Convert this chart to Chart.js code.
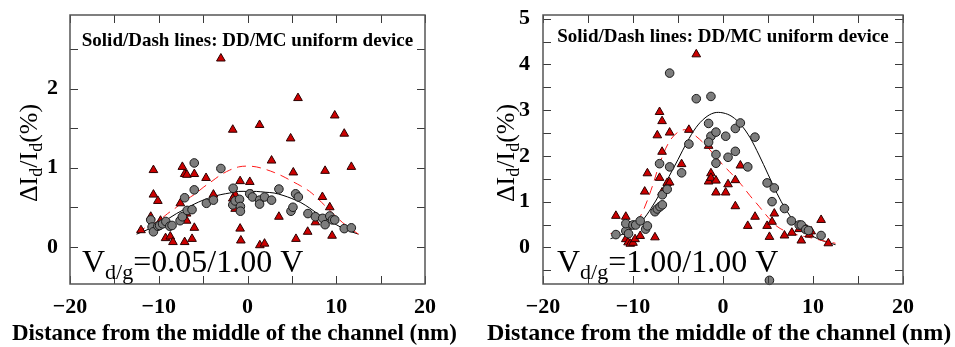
<!DOCTYPE html>
<html>
<head>
<meta charset="utf-8">
<script src="https://cdn.jsdelivr.net/npm/chart.js@4"></script>
<style>
  body { margin: 0; background: #fff; }
  #wrap { position: relative; width: 955px; height: 347px; }
  canvas { position: absolute; top: 0; }
  #left { left: 0; }
  #right { left: 477px; }
</style>
</head>
<body>
<div id="wrap">
  <canvas id="left" width="477" height="347"></canvas>
  <canvas id="right" width="478" height="347"></canvas>
</div>
<script>
const FONT = "'Liberation Serif', 'DejaVu Serif', serif";

// model curves, sampled along the channel (nm)
const curveX = [-12.5, -11, -10, -9, -8, -7, -6, -5, -4, -3, -2, -1, 0, 1, 2, 3, 4, 5, 6, 7, 8, 9, 10, 11, 12.5];
const lowDD = [0.16, 0.23, 0.29, 0.35, 0.42, 0.48, 0.54, 0.59, 0.63, 0.66, 0.68, 0.70, 0.70, 0.70, 0.69, 0.68, 0.65, 0.61, 0.56, 0.49, 0.41, 0.34, 0.28, 0.22, 0.16];
const lowMC = [0.19, 0.27, 0.33, 0.42, 0.50, 0.59, 0.66, 0.75, 0.83, 0.91, 0.97, 1.01, 1.02, 1.01, 0.98, 0.94, 0.89, 0.83, 0.77, 0.70, 0.60, 0.49, 0.38, 0.28, 0.16];
const highDD = [0.19, 0.30, 0.42, 0.58, 0.85, 1.18, 1.55, 1.92, 2.30, 2.62, 2.83, 2.94, 2.94, 2.86, 2.68, 2.40, 2.02, 1.60, 1.18, 0.82, 0.55, 0.36, 0.24, 0.15, 0.06];
const highMC = [0.30, 0.36, 0.45, 0.75, 1.25, 1.85, 2.30, 2.52, 2.57, 2.43, 2.25, 2.03, 1.80, 1.60, 1.38, 1.13, 0.90, 0.66, 0.46, 0.35, 0.29, 0.24, 0.20, 0.15, 0.09];

// Vd = 0.05 V, DD devices (circles)
const lowCircX = [-10.9, -10.75, -10.6, -10.1, -9.9, -9.57, -9.2, -8.76, -8.5, -7.6, -7.34, -7.08, -6.8, -6.25, -6.0, -6.0, -4.63, -3.84, -3.0, -1.62, -1.66, -1.39, -0.9, -0.8, -0.8, 0.25, 0.56, 1.36, 1.36, 1.92, 2.71, 3.54, 4.9, 5.12, 5.42, 5.73, 6.81, 7.65, 8.47, 8.74, 9.27, 9.57, 9.83, 10.9, 11.7];
const lowCircY = [0.34, 0.25, 0.19, 0.26, 0.27, 0.29, 0.32, 0.26, 0.27, 0.33, 0.38, 0.62, 0.46, 0.47, 0.72, 1.06, 0.55, 0.59, 0.99, 0.74, 0.53, 0.58, 0.60, 0.51, 0.45, 0.67, 0.63, 0.59, 0.54, 0.63, 0.59, 0.73, 0.45, 0.50, 0.67, 0.63, 0.42, 0.38, 0.36, 0.28, 0.39, 0.34, 0.34, 0.23, 0.24];
// Vd = 0.05 V, MC devices (triangles)
const lowTriX = [-3.0, 5.69, 9.83, 10.9, -1.66, 1.36, 4.86, 2.71, 11.7, -10.6, -7.34, -7.08, -6.83, -5.99, -4.67, 5.16, 8.74, -0.83, 0.26, -10.6, -10.1, -3.84, -1.39, -1.66, 0.49, 8.44, -7.57, 9.27, -1.39, -6.86, -10.9, -6.86, 3.54, -9.8, 7.65, -12.0, -5.99, -0.83, 6.78, -9.23, -8.7, -8.4, -7.08, -6.25, -0.75, 1.39, 1.92, 5.46, 9.53];
const lowTriY = [2.38, 1.88, 1.66, 1.43, 1.48, 1.54, 1.37, 1.09, 1.01, 0.97, 1.01, 0.92, 0.91, 0.92, 0.87, 0.94, 0.96, 0.83, 0.82, 0.66, 0.58, 0.66, 0.66, 0.61, 0.66, 0.63, 0.55, 0.50, 0.48, 0.42, 0.38, 0.33, 0.38, 0.33, 0.31, 0.21, 0.24, 0.23, 0.19, 0.11, 0.13, 0.06, 0.06, 0.10, 0.08, 0.02, 0.04, 0.10, 0.14];

// Vd = 1.00 V, DD devices (circles)
const highCircX = [-11.9, -10.8, -10.8, -10.5, -10.0, -9.7, -9.2, -8.6, -8.4, -7.56, -7.3, -7.0, -6.74, -6.74, -6.2, -5.93, -7.05, -4.6, -3.79, -5.93, -2.97, -1.34, -1.6, -1.34, -1.6, -0.78, -0.78, -0.78, 0.3, 0.56, 1.37, 1.37, 1.93, 2.75, 3.55, 4.9, 5.45, 5.7, 5.16, 6.83, 7.6, 8.46, 8.7, 9.2, 9.5, 10.9];
const highCircY = [0.28, 0.36, 0.52, 0.30, 0.49, 0.49, 0.58, 0.40, 0.47, 0.78, 0.84, 0.89, 0.93, 1.15, 1.27, 1.76, 1.83, 1.63, 2.26, 3.81, 3.25, 3.30, 2.71, 2.43, 2.30, 2.52, 2.03, 1.84, 2.43, 1.97, 2.60, 2.10, 2.72, 1.76, 2.41, 1.41, 1.00, 1.30, -0.72, 0.85, 0.58, 0.49, 0.49, 0.39, 0.37, 0.26];
// Vd = 1.00 V, MC devices (triangles)
const highTriX = [-11.9, -10.8, -10.8, -10.55, -10.3, -10.0, -9.77, -9.2, -8.7, -8.4, -7.56, -7.3, -7.05, -7.05, -6.77, -6.77, -6.77, -6.2, -5.93, -5.93, -4.6, -3.79, -2.97, -1.6, -1.6, -1.34, -1.34, -0.78, -0.78, 0.3, 0.56, 1.37, 1.37, 1.93, 2.75, 3.56, 4.9, 5.16, 5.45, 5.7, 6.83, 7.65, 8.46, 8.7, 9.3, 9.6, 9.8, 10.9, 11.7];
const highTriY = [0.69, 0.67, 0.18, 0.11, 0.08, 0.10, 0.18, 0.25, 1.22, 1.62, 0.22, 2.45, 2.96, 1.52, 2.76, 2.09, 1.20, 1.41, 2.51, 1.42, 1.82, 2.57, 4.22, 2.22, 1.44, 1.62, 1.52, 1.46, 1.20, 1.20, 1.38, 1.47, 0.90, 1.79, 0.47, 0.67, 0.47, 0.23, 0.56, 0.74, 0.26, 0.32, 0.40, 0.15, 0.39, 0.28, 0.35, 0.60, 0.09];

const xTicks = [-20, -10, 0, 10, 20];

function pts(xs, ys) {
  return xs.map((x, i) => ({ x: x, y: ys[i] }));
}

// draws a run of text pieces, some of them lowered as subscripts
function drawRuns(ctx, runs, x, y) {
  for (const r of runs) {
    ctx.font = (r.weight || "") + " " + r.size + "px " + FONT;
    ctx.fillText(r.t, x, y + (r.dy || 0));
    x += ctx.measureText(r.t).width;
  }
}

function runsWidth(ctx, runs) {
  let w = 0;
  for (const r of runs) {
    ctx.font = (r.weight || "") + " " + r.size + "px " + FONT;
    w += ctx.measureText(r.t).width;
  }
  return w;
}

const yTitle = [
  { t: "ΔI", size: 26 }, { t: "d", size: 18, dy: 5 },
  { t: "/I", size: 26 }, { t: "d", size: 18, dy: 5 }, { t: "(%)", size: 26 }
];

const framePlugin = {
  id: "frame",
  afterDraw(chart) {
    const ctx = chart.ctx;
    const a = chart.chartArea;
    const o = chart.options.plugins.frame;
    ctx.save();

    // inward tick marks on all four sides
    ctx.strokeStyle = "#3a3a3a";
    ctx.lineWidth = 1;
    const len = 8;
    for (const t of chart.scales.x.ticks) {
      const px = Math.round(chart.scales.x.getPixelForValue(t.value)) + 0.5;
      ctx.beginPath();
      ctx.moveTo(px, a.bottom); ctx.lineTo(px, a.bottom - len);
      ctx.moveTo(px, a.top); ctx.lineTo(px, a.top + len);
      ctx.stroke();
    }
    for (const t of chart.scales.y.ticks) {
      const py = Math.round(chart.scales.y.getPixelForValue(t.value)) + 0.5;
      ctx.beginPath();
      ctx.moveTo(a.left, py); ctx.lineTo(a.left + len, py);
      ctx.moveTo(a.right, py); ctx.lineTo(a.right - len, py);
      ctx.stroke();
    }
    ctx.strokeStyle = "#555";
    ctx.lineWidth = 1.5;
    ctx.strokeRect(a.left, a.top, a.right - a.left, a.bottom - a.top);

    ctx.fillStyle = "#000";
    ctx.textBaseline = "alphabetic";

    // model note
    ctx.textAlign = "center";
    ctx.font = "bold 19px " + FONT;
    ctx.fillText("Solid/Dash lines: DD/MC uniform device", (a.left + a.right) / 2, o.noteY);

    // bias annotation
    ctx.textAlign = "left";
    drawRuns(ctx, [
      { t: "V", size: 32 }, { t: "d/g", size: 22, dy: 7 },
      { t: "=" + o.bias + " V", size: 32 }
    ], o.biasX, 272);

    // x title
    ctx.font = "bold " + o.xTitleSize + "px " + FONT;
    ctx.fillText("Distance from the middle of the channel (nm)", o.xTitleX, 340);

    // y title, rotated
    ctx.translate(o.yTitleX, 153);
    ctx.rotate(-Math.PI / 2);
    const w = runsWidth(ctx, yTitle);
    drawRuns(ctx, yTitle, -w / 2, 9);
    ctx.restore();
  }
};

function makeChart(id, cfg) {
  return new Chart(document.getElementById(id), {
    type: "scatter",
    data: {
      datasets: [
        {
          data: pts(curveX, cfg.dd), type: "line", showLine: true, pointRadius: 0,
          borderColor: "#000", borderWidth: 1, tension: 0.35, order: 4
        },
        {
          data: pts(curveX, cfg.mc), type: "line", showLine: true, pointRadius: 0,
          borderColor: "#ff1a1a", borderWidth: 1, borderDash: [9, 6], tension: 0.35, order: 3
        },
        {
          data: pts(cfg.triX, cfg.triY), pointStyle: "triangle", pointRadius: 5,
          backgroundColor: "#cc0000", borderColor: "#2a0000", borderWidth: 1, order: 2
        },
        {
          data: pts(cfg.circX, cfg.circY), pointStyle: "circle", pointRadius: 4.3,
          backgroundColor: "#7d7d7d", borderColor: "#1a1a1a", borderWidth: 1, order: 1
        }
      ]
    },
    options: {
      responsive: false,
      animation: false,
      events: [],
      clip: false,
      layout: { padding: { top: 15, right: cfg.padRight, left: 0, bottom: 0 } },
      plugins: {
        legend: { display: false },
        tooltip: { enabled: false },
        frame: cfg.frame
      },
      scales: {
        x: {
          type: "linear", min: -20, max: 20,
          grid: { display: false, drawTicks: false }, border: { display: false },
          afterFit: s => { s.height = 63; s.paddingLeft = 0; s.paddingRight = 0; },
          ticks: {
            stepSize: 5, autoSkip: false, maxRotation: 0, padding: 10,
            color: "#000", font: { family: FONT, size: 22, weight: "bold" },
            callback: v => xTicks.includes(v) ? (v < 0 ? "\u2212" + Math.abs(v) : String(v)) : ""
          }
        },
        y: {
          type: "linear", min: cfg.yMin, max: cfg.yMax,
          grid: { display: false, drawTicks: false }, border: { display: false },
          afterFit: s => { s.width = cfg.axisW; s.paddingTop = 0; s.paddingBottom = 0; },
          ticks: {
            stepSize: 0.5, includeBounds: false, autoSkip: false, padding: cfg.yPad,
            color: "#000", font: { family: FONT, size: 22, weight: "bold" },
            callback: v => Number.isInteger(v) ? String(v) : ""
          }
        }
      }
    },
    plugins: [framePlugin]
  });
}

makeChart("left", {
  dd: lowDD, mc: lowMC,
  circX: lowCircX, circY: lowCircY, triX: lowTriX, triY: lowTriY,
  yMin: -0.47, yMax: 2.93, axisW: 70, padRight: 52, yPad: 12,
  frame: { noteY: 46, bias: "0.05/1.00", biasX: 82, xTitleX: 12, xTitleSize: 23, yTitleX: 28 }
});

makeChart("right", {
  dd: highDD, mc: highMC,
  circX: highCircX, circY: highCircY, triX: highTriX, triY: highTriY,
  yMin: -0.8, yMax: 5.08, axisW: 66, padRight: 52, yPad: 13,
  frame: { noteY: 42, bias: "1.00/1.00", biasX: 80, xTitleX: 10, xTitleSize: 24, yTitleX: 28 }
});
</script>
</body>
</html>
